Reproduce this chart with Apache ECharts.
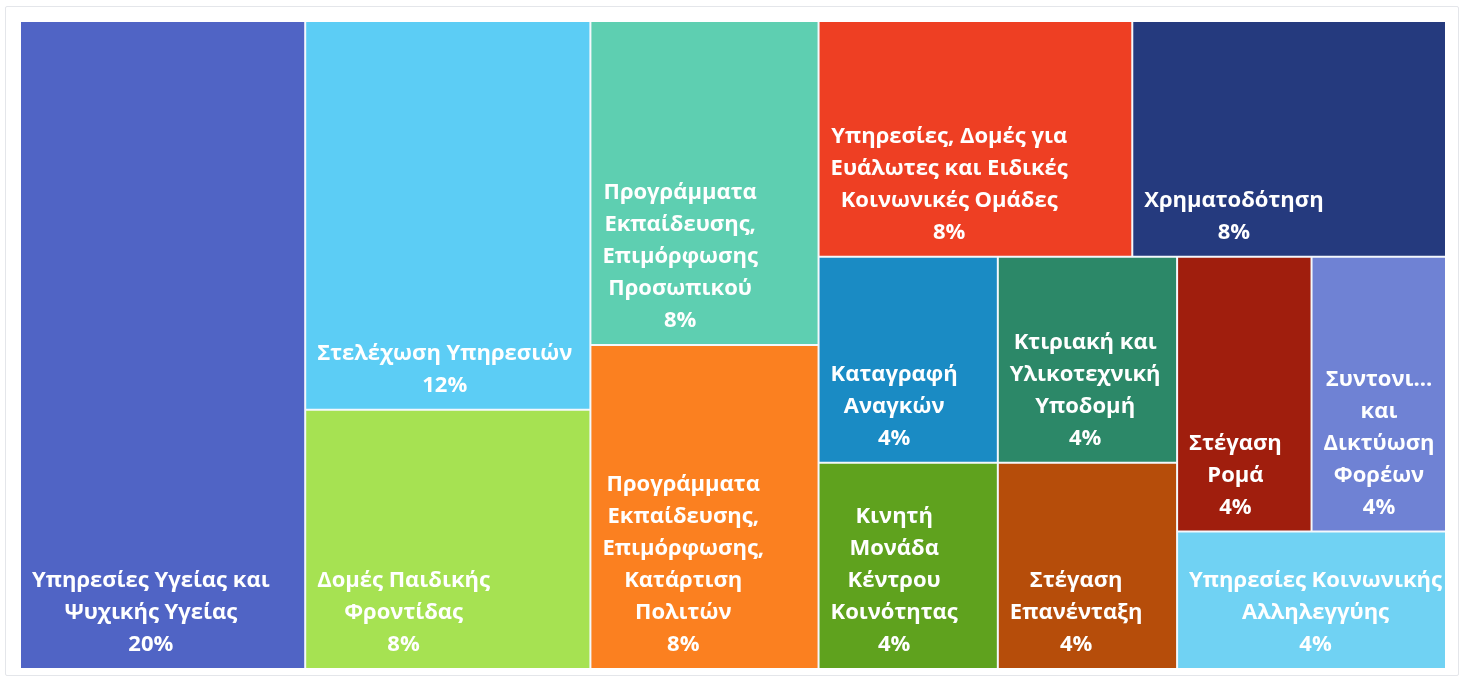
<!DOCTYPE html>
<html>
<head>
<meta charset="utf-8">
<script src="https://cdn.jsdelivr.net/npm/echarts@6/dist/echarts.min.js"></script>
<style>
  html, body { margin: 0; padding: 0; background: #ffffff; }
  #frame { position: absolute; left: 5px; top: 6px; width: 1452px; height: 668px;
           border: 1px solid #e4e6ea; border-radius: 2px; }
  #chart { position: absolute; left: 0; top: 0; width: 1465px; height: 680px; }
</style>
</head>
<body>
<div id="frame"></div>
<div id="chart"></div>
<script>
// Category labels as they are printed in each tile (line breaks included)
const labels = [
  'Υπηρεσίες Υγείας και\nΨυχικής Υγείας',
  'Στελέχωση Υπηρεσιών',
  'Δομές Παιδικής\nΦροντίδας',
  'Προγράμματα\nΕκπαίδευσης,\nΕπιμόρφωσης\nΠροσωπικού',
  'Προγράμματα\nΕκπαίδευσης,\nΕπιμόρφωσης,\nΚατάρτιση\nΠολιτών',
  'Υπηρεσίες, Δομές για\nΕυάλωτες και Ειδικές\nΚοινωνικές Ομάδες',
  'Χρηματοδότηση',
  'Καταγραφή\nΑναγκών',
  'Κινητή\nΜονάδα\nΚέντρου\nΚοινότητας',
  'Κτιριακή και\nΥλικοτεχνική\nΥποδομή',
  'Στέγαση\nΕπανένταξη',
  'Στέγαση\nΡομά',
  'Συντονι...\nκαι\nΔικτύωση\nΦορέων',
  'Υπηρεσίες Κοινωνικής\nΑλληλεγγύης'
];
// Number of mentions per category
const values = [5, 3, 2, 2, 2, 2, 2, 1, 1, 1, 1, 1, 1, 1];
const colors = [
  '#5064c5', '#5ccdf5', '#a6e252', '#5ecfb1', '#fb8020', '#ee3f23', '#253a7e',
  '#1a8bc4', '#5fa21e', '#2c8868', '#b64d0a', '#a01e0d', '#6f82d4', '#70d2f3'
];

const total = values.reduce((a, b) => a + b, 0);
const FONT_SIZE = 22;
const FONT_FAMILY = 'Open Sans';
const measureCtx = document.createElement('canvas').getContext('2d');
measureCtx.font = 'bold ' + FONT_SIZE + 'px "' + FONT_FAMILY + '"';

function leaf(i) {
  const pct = Math.round(values[i] / total * 100) + '%';
  const lines = (labels[i] + '\n' + pct).split('\n');
  const maxW = Math.max.apply(null, lines.map(l => measureCtx.measureText(l).width));
  return {
    name: labels[i].replace(/\n/g, ' '),
    value: values[i],
    text: labels[i],
    pct: pct,
    itemStyle: { color: colors[i] },
    // text block sits near the tile's lower-left corner, lines centred within it
    label: { position: [11 + maxW / 2, '100%'] }
  };
}

// Grouping steers the squarified layout into columns and rows
const treeData = [
  leaf(0),
  {
    name: 'rest',
    children: [
      leaf(1), leaf(2), leaf(3), leaf(4),
      {
        name: 'small',
        children: [5, 6, 7, 8, 9, 10, 11, 12, 13].map(leaf)
      }
    ]
  }
];

const chart = echarts.init(document.getElementById('chart'), null, { renderer: 'canvas' });
chart.setOption({
  animation: false,
  series: [{
    type: 'treemap',
    left: 21, top: 22, width: 1424, height: 646,
    sort: false,
    squareRatio: 1.15,
    roam: false,
    nodeClick: false,
    breadcrumb: { show: false },
    itemStyle: { borderWidth: 0, gapWidth: 2, borderColor: '#f4f8fc' },
    levels: [
      { itemStyle: { borderWidth: 0, gapWidth: 2, borderColor: '#f4f8fc' } },
      { itemStyle: { borderWidth: 0, gapWidth: 2, borderColor: '#f4f8fc' } },
      { itemStyle: { borderWidth: 0, gapWidth: 2, borderColor: '#f4f8fc' } },
      { itemStyle: { borderWidth: 0, gapWidth: 2, borderColor: '#f4f8fc' } }
    ],
    label: {
      show: true,
      color: '#ffffff',
      fontFamily: FONT_FAMILY,
      fontWeight: 'bold',
      fontSize: FONT_SIZE,
      lineHeight: 32,
      align: 'center',
      verticalAlign: 'bottom',
      offset: [0, -7],
      padding: 0,
      overflow: 'none',
      formatter: p => p.data.text + '\n' + p.data.pct
    },
    upperLabel: { show: false },
    emphasis: { disabled: true },
    data: treeData
  }]
});
</script>
</body>
</html>
